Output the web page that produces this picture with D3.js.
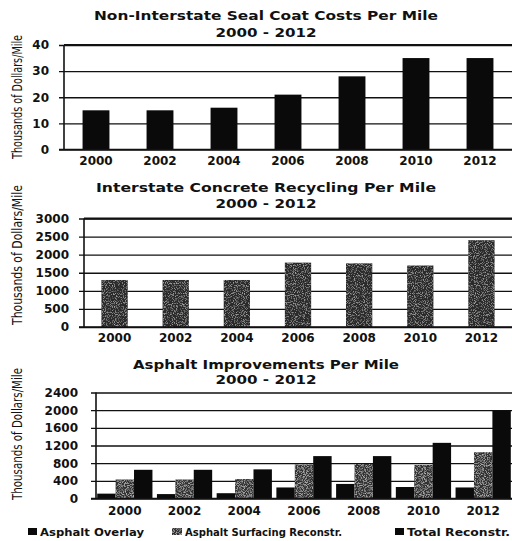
<!DOCTYPE html>
<html>
<head>
<meta charset="utf-8">
<script src="https://cdn.jsdelivr.net/npm/d3@7"></script>
<style>
  html, body { margin: 0; padding: 0; background: #fff; }
  svg { display: block; }
  text { font-family: "DejaVu Sans", Verdana, sans-serif; font-weight: bold; fill: #111; }
  .ytitle { font-family: "DejaVu Sans Condensed", "Liberation Sans Narrow", sans-serif; font-weight: normal; }
</style>
</head>
<body>
<script>
// Years shared by all three panels
const years = ["2000", "2002", "2004", "2006", "2008", "2010", "2012"];

// Panel 1: non-interstate seal coat, thousands of dollars per mile
const sealCoat = [15, 15, 16, 21, 28, 35, 35];
const sealTicks = [0, 10, 20, 30, 40];

// Panel 2: interstate concrete recycling
const concreteRecycling = [1300, 1300, 1300, 1780, 1760, 1700, 2400];
const concreteTicks = [0, 500, 1000, 1500, 2000, 2500, 3000];

// Panel 3: asphalt improvements (three series)
const asphaltSeries = ["Asphalt Overlay", "Asphalt Surfacing Reconstr.", "Total Reconstr."];
const asphaltOverlay = [110, 100, 120, 250, 330, 260, 250];
const asphaltSurfacing = [430, 430, 440, 770, 780, 760, 1050];
const totalReconstr = [650, 650, 660, 960, 960, 1260, 1990];
const asphaltTicks = [0, 400, 800, 1200, 1600, 2000, 2400];

const yTitle = "Thousands of Dollars/Mile";

const W = 512, H = 541;
const svg = d3.select("body").append("svg").attr("width", W).attr("height", H);

// Speckled grey fill used for the concrete and surfacing bars
const defs = svg.append("defs");
function speckle(id, base, seed, k, c) {
  const f = defs.append("filter").attr("id", id).attr("x", 0).attr("y", 0).attr("width", 1).attr("height", 1);
  f.append("feTurbulence").attr("type", "fractalNoise").attr("baseFrequency", 1.1)
    .attr("numOctaves", 1).attr("seed", seed).attr("result", "n");
  f.append("feColorMatrix").attr("in", "n").attr("type", "matrix")
    .attr("values", `0 0 0 0 ${base}  0 0 0 0 ${base}  0 0 0 0 ${base}  0 0 0 ${k} ${c}`).attr("result", "spots");
  f.append("feComposite").attr("in", "spots").attr("in2", "SourceGraphic").attr("operator", "in").attr("result", "clipped");
  const m = f.append("feMerge");
  m.append("feMergeNode").attr("in", "SourceGraphic");
  m.append("feMergeNode").attr("in", "clipped");
}
speckle("speck2", 0.5, 3, -2.6, 1.3);
speckle("speck3", 0.62, 7, -2.4, 1.3);

const fmt = d3.format("d");

function panel(cfg) {
  const g = svg.append("g");
  const { left, right, top, bottom, max, ticks } = cfg;

  // title, two lines
  g.append("text").attr("x", 266).attr("y", cfg.t1y).attr("text-anchor", "middle")
    .attr("font-size", 13).attr("textLength", cfg.t1w).attr("lengthAdjust", "spacingAndGlyphs")
    .text(cfg.title);
  g.append("text").attr("x", 266).attr("y", cfg.t2y).attr("text-anchor", "middle")
    .attr("font-size", 13).attr("textLength", 101).attr("lengthAdjust", "spacingAndGlyphs")
    .text("2000 - 2012");

  const x = d3.scaleBand().domain(years).range([left, right])
    .paddingInner(cfg.padIn).paddingOuter(cfg.padOut);
  const y = d3.scaleLinear().domain([0, max]).range([bottom, top]);

  // horizontal grid + y labels
  const ya = g.append("g").attr("transform", `translate(${left},0)`)
    .call(d3.axisLeft(y).tickValues(ticks).tickFormat(fmt)
      .tickSizeInner(-(right - left)).tickSizeOuter(0).tickPadding(cfg.labPad));
  ya.select(".domain").remove();
  ya.selectAll(".tick line").attr("x1", -5).attr("stroke", "#111").attr("stroke-width", 1.3);
  ya.selectAll(".tick text").attr("font-size", 12).attr("font-family", "DejaVu Sans, sans-serif")
    .attr("font-weight", "bold").attr("fill", "#111");
  if (cfg.heavyTop) {
    g.append("line").attr("x1", left).attr("x2", right).attr("y1", y(max)).attr("y2", y(max))
      .attr("stroke", "#111").attr("stroke-width", 2.2);
  }

  // bars
  cfg.drawBars(g, x, y);

  // left axis line and baseline
  g.append("line").attr("x1", left).attr("x2", left).attr("y1", top).attr("y2", bottom)
    .attr("stroke", "#111").attr("stroke-width", 1.6);
  g.append("line").attr("x1", left - 5).attr("x2", right).attr("y1", bottom).attr("y2", bottom)
    .attr("stroke", "#111").attr("stroke-width", 1.5);

  // x labels
  const xa = g.append("g").attr("transform", `translate(0,${bottom})`)
    .call(d3.axisBottom(x).tickSize(0).tickPadding(cfg.xPad));
  xa.select(".domain").remove();
  xa.selectAll(".tick text").attr("font-size", 12).attr("font-family", "DejaVu Sans, sans-serif")
    .attr("font-weight", "bold").attr("fill", "#111");

  // y title
  g.append("text").attr("class", "ytitle")
    .attr("transform", `translate(22,${cfg.ytY}) rotate(-90)`)
    .attr("text-anchor", "middle").attr("font-size", 13.5)
    .attr("textLength", cfg.ytW).attr("lengthAdjust", "spacingAndGlyphs")
    .text(yTitle);
  return { x, y };
}

// Panel 1
panel({
  title: "Non-Interstate Seal Coat Costs Per Mile", t1y: 19.5, t2y: 36.5, t1w: 344,
  left: 64, right: 512, top: 45, bottom: 149.5, max: 40, ticks: sealTicks,
  padIn: 0.58, padOut: 0.29, labPad: 15, xPad: 7, heavyTop: true, ytY: 97, ytW: 124,
  drawBars: (g, x, y) => {
    g.selectAll(".b1").data(sealCoat).join("rect")
      .attr("x", (d, i) => x(years[i])).attr("width", x.bandwidth())
      .attr("y", d => y(d)).attr("height", d => y(0) - y(d)).attr("fill", "#0a0a0a");
  }
});

// Panel 2
panel({
  title: "Interstate Concrete Recycling Per Mile", t1y: 191.5, t2y: 208, t1w: 340,
  left: 84, right: 512, top: 218.5, bottom: 327, max: 3000, ticks: concreteTicks,
  padIn: 0.57, padOut: 0.285, labPad: 15, xPad: 6, heavyTop: true, ytY: 255, ytW: 140,
  drawBars: (g, x, y) => {
    g.selectAll(".b2").data(concreteRecycling).join("rect")
      .attr("x", (d, i) => x(years[i])).attr("width", x.bandwidth())
      .attr("y", d => y(d)).attr("height", d => y(0) - y(d))
      .attr("fill", "#2a2a2a").attr("filter", "url(#speck2)");
  }
});

// Panel 3
panel({
  title: "Asphalt Improvements Per Mile", t1y: 368.5, t2y: 383.5, t1w: 266,
  left: 96, right: 512, top: 392.5, bottom: 498.5, max: 2400, ticks: asphaltTicks,
  padIn: 0.075, padOut: 0.02, labPad: 18, xPad: 8, heavyTop: false, ytY: 434, ytW: 132,
  drawBars: (g, x, y) => {
    const x1 = d3.scaleBand().domain(asphaltSeries).range([0, x.bandwidth()]).padding(0);
    const seriesVals = [asphaltOverlay, asphaltSurfacing, totalReconstr];
    const fills = ["#0a0a0a", "#333", "#0a0a0a"];
    asphaltSeries.forEach((s, si) => {
      g.selectAll(".s" + si).data(seriesVals[si]).join("rect")
        .attr("x", (d, i) => x(years[i]) + x1(s)).attr("width", x1.bandwidth())
        .attr("y", d => y(d)).attr("height", d => y(0) - y(d))
        .attr("fill", fills[si]).attr("filter", si === 1 ? "url(#speck3)" : null);
    });
  }
});

// Legend
const legendItems = [
  { label: asphaltSeries[0], sx: 28, sw: 9, tx: 40, tw: 104, fill: "#0a0a0a", f: null },
  { label: asphaltSeries[1], sx: 172, sw: 10, tx: 185, tw: 157, fill: "#333", f: "url(#speck3)" },
  { label: asphaltSeries[2], sx: 395, sw: 9, tx: 407, tw: 103, fill: "#0a0a0a", f: null }
];
const lg = svg.append("g");
legendItems.forEach(it => {
  lg.append("rect").attr("x", it.sx).attr("y", 528).attr("width", it.sw).attr("height", 7)
    .attr("fill", it.fill).attr("filter", it.f);
  lg.append("text").attr("x", it.tx).attr("y", 535.5).attr("font-size", 11)
    .attr("textLength", it.tw).attr("lengthAdjust", "spacingAndGlyphs").text(it.label);
});
</script>
</body>
</html>
